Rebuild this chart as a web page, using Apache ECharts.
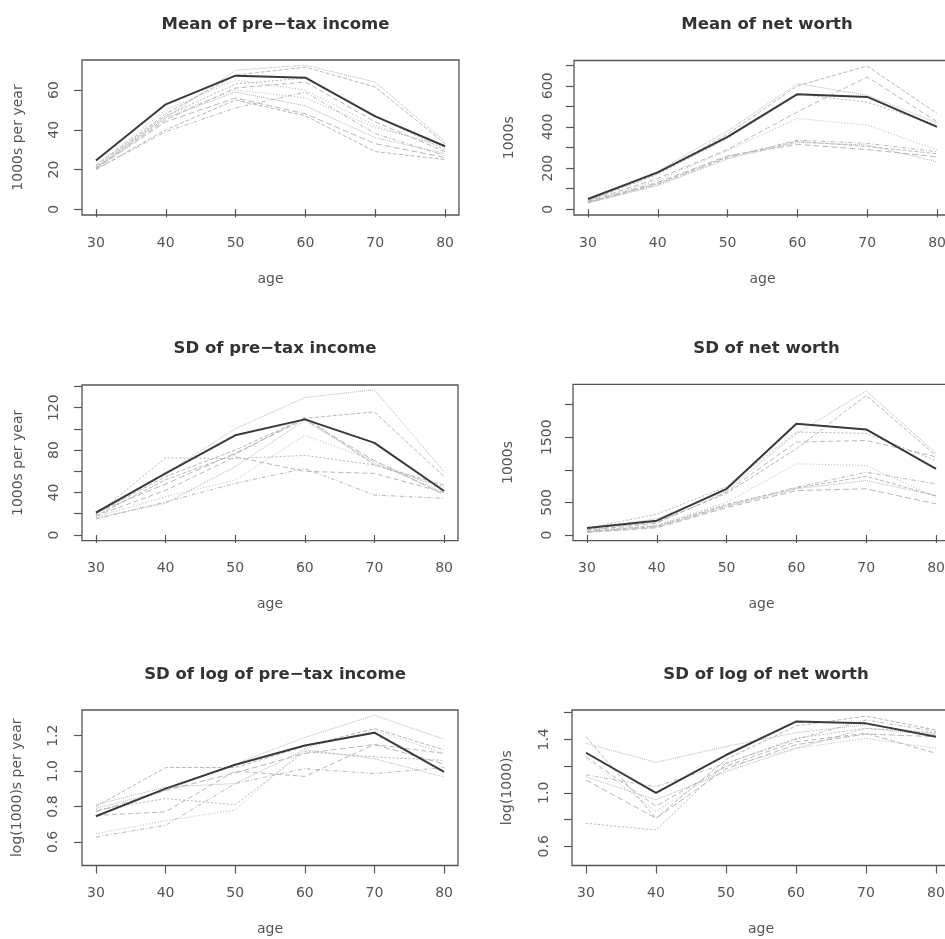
<!DOCTYPE html>
<html>
<head>
<meta charset="utf-8">
<script src="https://cdn.jsdelivr.net/npm/echarts@6/dist/echarts.min.js"></script>
<style>
html,body{margin:0;padding:0;background:#fff;}
#chart{width:945px;height:939px;}
</style>
</head>
<body>
<div id="chart"></div>
<script>
// ---------- data ----------
const ages = [30, 40, 50, 60, 70, 80];

const titles = ["Mean of pre\u2212tax income", "Mean of net worth", "SD of pre\u2212tax income",
                "SD of net worth", "SD of log of pre\u2212tax income", "SD of log of net worth"];
const yNames = ["1000s per year", "1000s", "1000s per year", "1000s", "log(1000)s per year", "log(1000)s"];

// Panel 1: mean of pre-tax income
const meanIncomeMain = [24.5, 52.8, 67.2, 66.2, 46.7, 31.7];
const meanIncomeOthers = [
  [21, 46, 70, 72.5, 64, 34],
  [22, 48, 67.5, 71.5, 61.5, 33],
  [21, 47, 63, 66, 47, 30],
  [20.5, 45, 61, 64, 44, 29],
  [22, 50, 65, 60, 42, 31],
  [20, 39, 51, 59, 38, 27],
  [21, 46, 59, 52, 36, 28],
  [20.5, 44, 56, 48, 33, 26],
  [20, 40, 55, 47, 29, 25],
  [22, 47, 60, 56, 41, 32]
];

// Panel 2: mean of net worth
const meanWorthMain = [50, 179, 352, 559, 546, 400];
const meanWorthOthers = [
  [45, 185, 380, 611, 554, 420],
  [40, 175, 365, 600, 696, 465],
  [42, 170, 345, 560, 520, 410],
  [38, 150, 290, 473, 643, 425],
  [35, 140, 285, 441, 409, 288],
  [32, 120, 250, 336, 320, 280],
  [30, 115, 245, 325, 312, 231],
  [35, 130, 260, 315, 290, 255],
  [33, 125, 255, 330, 305, 270]
];

// Panel 3: SD of pre-tax income
const sdIncomeMain = [21, 58, 94, 109, 86.8, 41.4];
const sdIncomeOthers = [
  [22, 58, 100, 129.5, 137, 59.6],
  [20, 55, 80, 110, 116, 55],
  [19, 72.7, 72, 75, 66, 45],
  [18, 42, 73.7, 60, 58, 40],
  [17, 36, 51.7, 94, 70, 42],
  [15, 31, 48.6, 62.7, 37.6, 34.5],
  [16, 30, 64.3, 108, 68, 40],
  [21, 48, 77, 109, 70, 38],
  [18, 52, 76, 111, 66, 47]
];

// Panel 4: SD of net worth
const sdWorthMain = [108, 220, 708, 1708, 1620, 1015];
const sdWorthOthers = [
  [90, 250, 680, 1554, 2210, 1256],
  [80, 200, 640, 1323, 2143, 1220],
  [100, 320, 740, 1580, 1560, 1144],
  [70, 180, 660, 1426, 1451, 1200],
  [60, 150, 500, 1092, 1067, 580],
  [50, 130, 450, 733, 964, 785],
  [45, 120, 440, 708, 836, 605],
  [40, 110, 420, 682, 708, 477],
  [55, 140, 470, 720, 900, 600]
];

// Panel 5: SD of log of pre-tax income
const sdLogIncomeMain = [0.745, 0.901, 1.036, 1.145, 1.217, 0.995];
const sdLogIncomeOthers = [
  [0.79, 0.89, 1.04, 1.19, 1.315, 1.18],
  [0.80, 1.02, 1.02, 1.14, 1.24, 1.12],
  [0.78, 0.845, 0.81, 1.11, 1.08, 1.06],
  [0.75, 0.77, 1.00, 0.97, 1.15, 1.10],
  [0.647, 0.72, 0.78, 1.13, 1.23, 1.10],
  [0.628, 0.694, 0.93, 1.014, 0.986, 1.02],
  [0.81, 0.91, 0.93, 1.12, 1.07, 0.967],
  [0.77, 0.89, 0.99, 1.10, 1.15, 1.04]
];

// Panel 6: SD of log of net worth
const sdLogWorthMain = [1.30, 1.00, 1.283, 1.533, 1.52, 1.42];
const sdLogWorthOthers = [
  [1.37, 1.228, 1.346, 1.45, 1.51, 1.44],
  [1.42, 0.81, 1.25, 1.50, 1.575, 1.47],
  [0.772, 0.722, 1.22, 1.408, 1.483, 1.45],
  [1.27, 0.90, 1.20, 1.383, 1.445, 1.296],
  [1.258, 0.86, 1.196, 1.333, 1.408, 1.333],
  [1.134, 1.046, 1.221, 1.40, 1.545, 1.46],
  [1.121, 0.947, 1.159, 1.333, 1.483, 1.433],
  [1.096, 0.81, 1.18, 1.36, 1.44, 1.42]
];

// tick positions
const xTicks = [30, 40, 50, 60, 70, 80];
const yTicks = [
  [0, 20, 40, 60],
  [0, 100, 200, 300, 400, 500, 600, 700],
  [0, 20, 40, 60, 80, 100, 120, 140],
  [0, 500, 1000, 1500, 2000],
  [0.6, 0.8, 1.0, 1.2],
  [0.6, 0.8, 1.0, 1.2, 1.4, 1.6]
];
const yLabels = [
  [0, 20, 40, 60],
  [0, 200, 400, 600],
  [0, 40, 80, 120],
  [0, 500, 1500],
  [0.6, 0.8, 1.0, 1.2],
  [0.6, 1.0, 1.4]
];
const yDecimals = [0, 0, 0, 0, 1, 1];

const mains = [meanIncomeMain, meanWorthMain, sdIncomeMain, sdWorthMain, sdLogIncomeMain, sdLogWorthMain];
const others = [meanIncomeOthers, meanWorthOthers, sdIncomeOthers, sdWorthOthers, sdLogIncomeOthers, sdLogWorthOthers];

// ---------- layout ----------
const grids = [
  {left: 82, top: 60, width: 377, height: 155},
  {left: 574, top: 60.5, width: 377, height: 154.5},
  {left: 82, top: 385, width: 376, height: 155.7},
  {left: 573, top: 384.3, width: 377, height: 156.4},
  {left: 82, top: 710, width: 376, height: 155.5},
  {left: 572, top: 710, width: 378, height: 155.5}
];
const yRanges = [
  [-2.9, 75.1],
  [-27.8, 722.8],
  [-5.44, 141.4],
  [-88, 2313],
  [0.467, 1.345],
  [0.456, 1.62]
];
const titleCenters = [[270.5, 23], [762, 23], [270, 347], [761.5, 347], [270, 673], [761, 673]];
const yLabelMargin = [21, 19, 21, 19, 22, 21];
const yNameGap = [57, 58, 57, 58, 58, 58];

const FONT = "DejaVu Sans";
const TXT = "#555";
const grayTypes = ['dotted', 'dashed', [2, 2], [5, 3], [1, 2], [4, 2, 1, 2], 'dotted', [6, 3], 'dashed', [1, 2]];

const option = {
  animation: false,
  backgroundColor: '#fff',
  title: titles.map((t, i) => ({
    text: t,
    left: titleCenters[i][0],
    top: titleCenters[i][1] - 12,
    textAlign: 'center',
    textStyle: {fontFamily: FONT, fontSize: 16.5, fontWeight: 'bold', color: '#333'}
  })),
  grid: grids.map(g => Object.assign({show: true, borderColor: '#555', borderWidth: 1.3,
                                      backgroundColor: 'transparent', outerBoundsMode: 'none', containLabel: false}, g)),
  xAxis: grids.map((g, i) => ({
    type: 'value', gridIndex: i, min: 28, max: 82,
    name: 'age', nameLocation: 'middle', nameGap: 57,
    nameTextStyle: {fontFamily: FONT, fontSize: 14, color: TXT},
    axisLine: {show: false},
    splitLine: {show: false},
    axisTick: {show: true, inside: false, length: 8, lineStyle: {color: '#555', width: 1.2}, customValues: xTicks},
    axisLabel: {show: true, margin: 21, fontFamily: FONT, fontSize: 14, color: TXT, customValues: xTicks,
                hideOverlap: false, formatter: v => String(Math.round(v))}
  })),
  yAxis: grids.map((g, i) => ({
    type: 'value', gridIndex: i, min: yRanges[i][0], max: yRanges[i][1],
    name: yNames[i], nameLocation: 'middle', nameGap: yNameGap[i], nameRotate: 90,
    nameTextStyle: {fontFamily: FONT, fontSize: 14, color: TXT},
    axisLine: {show: false},
    splitLine: {show: false},
    axisTick: {show: true, inside: false, length: 8, lineStyle: {color: '#555', width: 1.2}, customValues: yTicks[i]},
    axisLabel: {show: true, rotate: 90, margin: yLabelMargin[i], fontFamily: FONT, fontSize: 14, color: TXT,
                customValues: yLabels[i], hideOverlap: false,
                formatter: v => Number(v).toFixed(yDecimals[i])}
  })),
  series: []
};

mains.forEach((main, i) => {
  others[i].forEach((vals, k) => {
    option.series.push({
      type: 'line', xAxisIndex: i, yAxisIndex: i, silent: true,
      symbol: 'none', z: 2,
      lineStyle: {color: '#b8b8b8', width: 1, type: grayTypes[k % grayTypes.length]},
      data: ages.map((a, j) => [a, vals[j]])
    });
  });
  option.series.push({
    type: 'line', xAxisIndex: i, yAxisIndex: i, silent: true,
    symbol: 'none', z: 3,
    lineStyle: {color: '#3a3a3a', width: 2},
    data: ages.map((a, j) => [a, main[j]])
  });
});

const chart = echarts.init(document.getElementById('chart'), null, {renderer: 'canvas'});
chart.setOption(option);
</script>
</body>
</html>
